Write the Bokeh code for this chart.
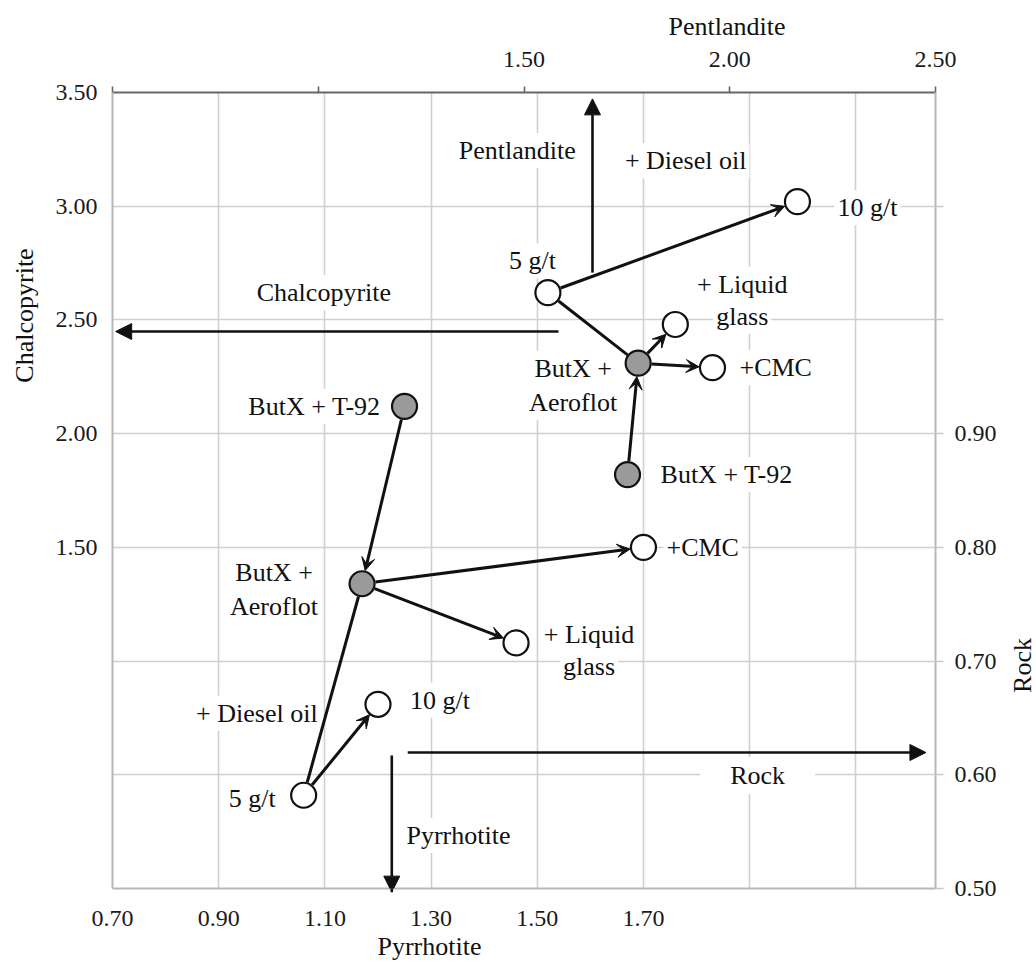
import math
from bokeh.plotting import figure
from bokeh.layouts import row
from bokeh.models import (Range1d, LinearAxis, FixedTicker, Label, Arrow, VeeHead, NormalHead,
                          ColumnDataSource, CustomJSTickFormatter, Title)
from bokeh.embed import file_html
from bokeh.resources import INLINE

# ---------------------------------------------------------------- data
regime_labels = ["ButX + T-92", "ButX + Aeroflot", "+ Liquid glass", "+CMC", "5 g/t", "10 g/t"]
regime_filled = [True, True, False, False, False, False]

# ore 1 (upper group): Pyrrhotite (bottom axis) and Chalcopyrite (left axis)
ore1_pyrrhotite = [1.67, 1.69, 1.76, 1.83, 1.52, 1.99]
ore1_chalcopyrite = [1.82, 2.31, 2.48, 2.29, 2.62, 3.02]

# ore 2 (lower group)
ore2_pyrrhotite = [1.25, 1.17, 1.46, 1.70, 1.06, 1.20]
ore2_chalcopyrite = [2.12, 1.34, 1.08, 1.50, 0.41, 0.81]

# links between regimes: from -> to, arrow head or not
link_from = [0, 1, 1, 1, 4]
link_to = [1, 2, 3, 4, 5]
link_head = [True, True, True, False, True]

pyrrhotite_ticks = [0.70, 0.90, 1.10, 1.30, 1.50, 1.70, 1.90, 2.10]
pyrrhotite_labelled = [0.70, 0.90, 1.10, 1.30, 1.50, 1.70]
pentlandite_ticks = [0.50, 1.00, 1.50, 2.00, 2.50]
pentlandite_labelled = [1.50, 2.00, 2.50]
chalcopyrite_ticks = [0.0, 0.5, 1.0, 1.5, 2.0, 2.5, 3.0, 3.5]
chalcopyrite_labelled = [1.5, 2.0, 2.5, 3.0, 3.5]
rock_ticks = [0.5, 0.6, 0.7, 0.8, 0.9, 1.0, 1.1]
rock_labelled = [0.5, 0.6, 0.7, 0.8, 0.9]

# ---------------------------------------------------------------- layout
WL, WR = 40, 30            # narrow strips holding the vertical axis titles
W, H = 1036 - WL - WR, 962  # main plot
L, T = 112 - WL, 92
R, B = W - (935 - WL), H - 888
X0, X1 = 0.70, 2.25
Y0, Y1 = 0.0, 3.5
FONT = "Liberation Serif"

p = figure(width=W, height=H, output_backend="svg", toolbar_location=None,
           title_location=None,
           x_range=Range1d(X0, X1), y_range=Range1d(Y0, Y1),
           min_border_left=L, min_border_right=R, min_border_top=T, min_border_bottom=B,
           background_fill_color="white", border_fill_color="white")
p.outline_line_color = None
p.extra_x_ranges = {"pent": Range1d(0.5, 2.5)}
p.extra_y_ranges = {"rock": Range1d(0.5, 1.2)}

top_axis = LinearAxis(x_range_name="pent")
right_axis = LinearAxis(y_range_name="rock")
p.add_layout(top_axis, "above")
p.add_layout(right_axis, "right")

FMT = """
for (const v of show) { if (Math.abs(v - tick) < 1e-6) { return tick.toFixed(2); } }
return "";
"""

def style_axis(ax, ticks, labelled, line_color, tick_color, tick_out, standoff):
    ax.ticker = FixedTicker(ticks=ticks, minor_ticks=[])
    ax.formatter = CustomJSTickFormatter(args=dict(show=labelled), code=FMT)
    ax.axis_line_color = line_color
    ax.axis_line_width = 2
    ax.major_tick_line_color = tick_color
    ax.major_tick_line_width = 1.6
    ax.major_tick_out = tick_out
    ax.major_tick_in = 0
    ax.minor_tick_line_color = None
    ax.major_label_standoff = standoff
    ax.major_label_text_font = FONT
    ax.major_label_text_font_size = "24px"
    ax.major_label_text_color = "#1a1a1a"

style_axis(p.below[0], pyrrhotite_ticks, pyrrhotite_labelled, "#b8b8b8", None, 0, 22)
style_axis(p.left[0], chalcopyrite_ticks, chalcopyrite_labelled, "#b8b8b8", None, 0, 15)
style_axis(top_axis, pentlandite_ticks, pentlandite_labelled, "#666666", "#666666", 6, 20)
style_axis(right_axis, rock_ticks, rock_labelled, "#b8b8b8", "#c8c8c8", 8, 11)

p.xgrid.grid_line_color = "#d0d0d0"
p.ygrid.grid_line_color = "#d0d0d0"
p.xgrid.grid_line_width = 1.6
p.ygrid.grid_line_width = 1.6

# horizontal axis titles, placed along each side like the reference
for side, text, offset, standoff in [("above", "Pentlandite", 556, 16),
                                     ("below", "Pyrrhotite", 265, 3)]:
    p.add_layout(Title(text=text, align="left", offset=offset, standoff=standoff,
                       text_font=FONT, text_font_size="26px", text_font_style="normal",
                       text_color="#111111"), side)

kx = (W - L - R) / (X1 - X0)
ky = (H - T - B) / (Y1 - Y0)
RAD = 13.5


def trim(xa, ya, xb, yb, ra, rb):
    dx = (xb - xa) * kx
    dy = (yb - ya) * ky
    d = math.hypot(dx, dy)
    ux, uy = dx / d, dy / d
    return xa + ux * ra / kx, ya + uy * ra / ky, xb - ux * rb / kx, yb - uy * rb / ky


def text_label(x, y, text, dx=0, dy=0, align="left", size="26px", bg=True, **kw):
    lab = Label(x=x, y=y, x_offset=dx, y_offset=dy, text=text, text_align=align,
                text_baseline="middle", text_font=FONT, text_font_size=size,
                text_color="#111111", **kw)
    if bg:
        lab.background_fill_color = "white"
        lab.padding = 3
    p.add_layout(lab)
    return lab

# point-label placement (screen offsets) per regime: list of (line, dx, dy, align)
ore1_text = [
    [("ButX + T-92", 30, 0, "left")],
    [("ButX +", -65, -5, "center"), ("Aeroflot", -65, -39, "center")],
    [("+ Liquid", 67, 40, "center"), ("glass", 67, 8, "center")],
    [("+CMC", 24, 0, "left")],
    [("5 g/t", 11, 32, "right"), ("+ Diesel oil", 74, 132, "left")],
    [("10 g/t", 37, -6, "left")],
]
ore2_text = [
    [("ButX + T-92", -21, 0, "right")],
    [("ButX +", -88, 11, "center"), ("Aeroflot", -88, -23, "center")],
    [("+ Liquid", 73, 8, "center"), ("glass", 73, -24, "center")],
    [("+CMC", 20, 0, "left")],
    [("5 g/t", -25, -3, "right"), ("+ Diesel oil", 17, 82, "right")],
    [("10 g/t", 29, 4, "left")],
]

for xs, ys, texts in [(ore1_pyrrhotite, ore1_chalcopyrite, ore1_text),
                      (ore2_pyrrhotite, ore2_chalcopyrite, ore2_text)]:
    src = ColumnDataSource(dict(x=xs, y=ys, name=regime_labels,
                                fill=["#9a9a9a" if f else "white" for f in regime_filled]))
    p.scatter("x", "y", source=src, size=25, marker="circle", fill_color="fill",
              line_color="#111111", line_width=2.2)
    for i, lines in enumerate(texts):
        for (t, dx, dy, al) in lines:
            text_label(xs[i], ys[i], t, dx, dy, al)

# direction annotations (data coordinates of the bottom/left axes)
text_label(1.578, 3.245, "Pentlandite", align="right")
text_label(0.966, 2.620, "Chalcopyrite", align="left")
lab_rock = text_label(1.915, 0.497, "Rock", align="center")
lab_rock.padding = (30, 4)
text_label(1.248, 0.233, "Pyrrhotite", align="left")

# links between regimes
for xs, ys in [(ore1_pyrrhotite, ore1_chalcopyrite), (ore2_pyrrhotite, ore2_chalcopyrite)]:
    for a, b, head in zip(link_from, link_to, link_head):
        xa, ya, xb, yb = trim(xs[a], ys[a], xs[b], ys[b], RAD, RAD)
        p.add_layout(Arrow(x_start=xa, y_start=ya, x_end=xb, y_end=yb,
                           line_width=3, line_color="#111111",
                           end=VeeHead(size=13, fill_color="#111111", line_color="#111111",
                                       line_width=1) if head else None))

for (xa, ya, xb, yb) in [(1.604, 2.708, 1.604, 3.472),
                         (1.540, 2.449, 0.706, 2.449),
                         (1.256, 0.598, 2.232, 0.598),
                         (1.226, 0.585, 1.226, -0.016)]:
    p.add_layout(Arrow(x_start=xa, y_start=ya, x_end=xb, y_end=yb, line_width=2.6,
                       line_color="#111111",
                       end=NormalHead(size=16, fill_color="#111111", line_color="#111111",
                                      line_width=1)))


def title_strip(width, text, cx, cy):
    """Narrow figure holding a vertical axis title that reads bottom to top.
    In a row its frame is aligned with the main plot frame (page y 92..888),
    so the y range is expressed directly in page pixels."""
    s = figure(width=width, height=H, output_backend="svg", toolbar_location=None,
               title_location=None, x_axis_location=None, y_axis_location=None,
               x_range=Range1d(0, width), y_range=Range1d(start=888, end=92),
               min_border=0, background_fill_color="white", border_fill_color="white")
    s.outline_line_color = None
    s.grid.visible = False
    s.add_layout(Label(x=cx, y=cy, text=text, angle=math.pi / 2, text_align="center",
                       text_baseline="middle", text_font=FONT, text_font_size="26px",
                       text_color="#111111"))
    return s


left_strip = title_strip(WL, "Chalcopyrite", 24, 315)
right_strip = title_strip(WR, "Rock", 16, 665)

layout = row(left_strip, p, right_strip, spacing=0)
open("out.html", "w").write(file_html(layout, INLINE))
